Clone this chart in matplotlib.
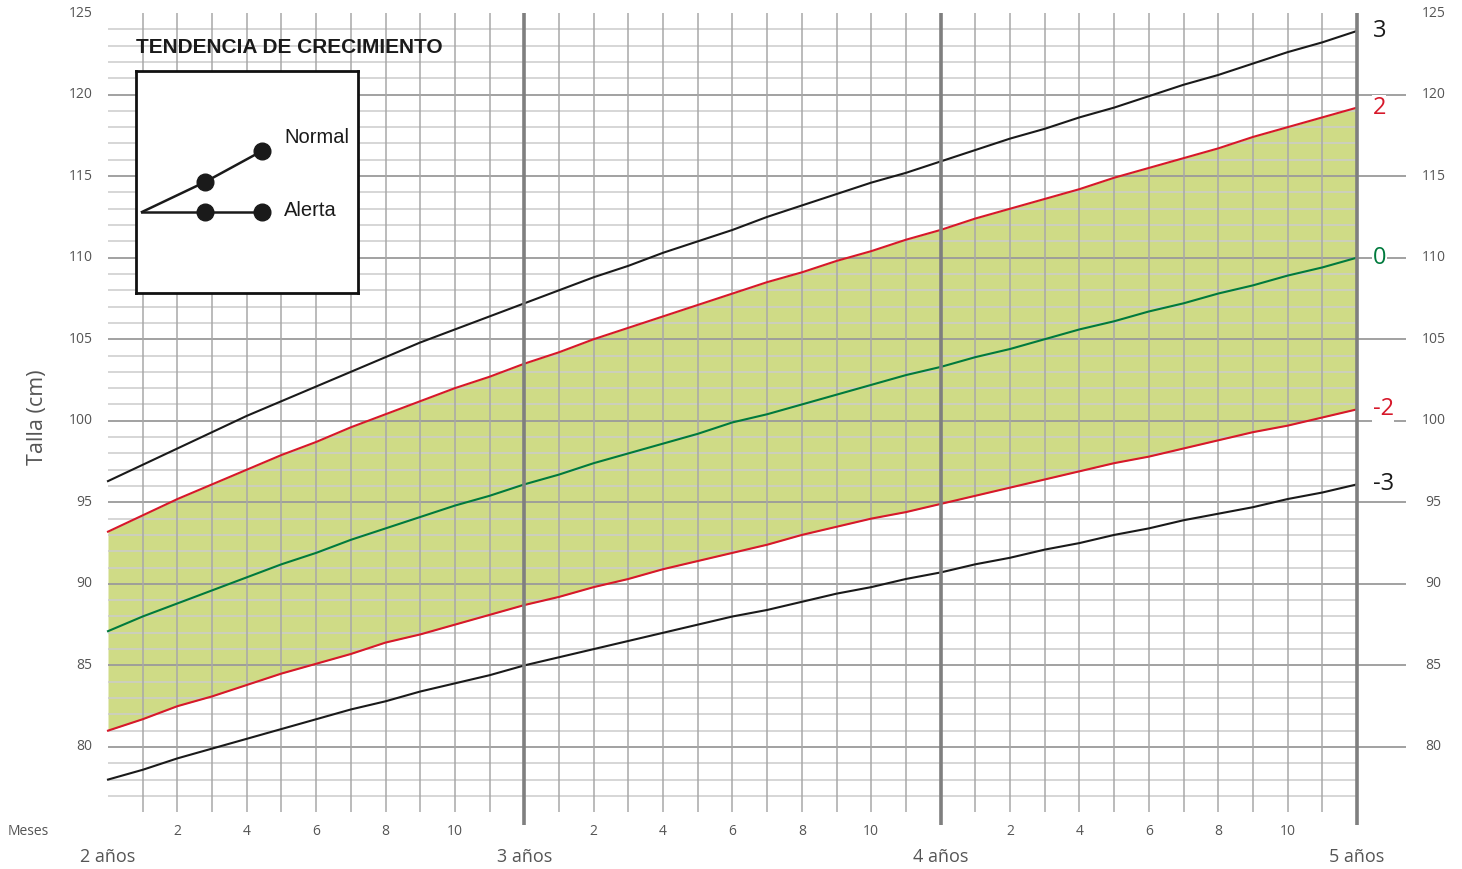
import matplotlib as mpl
from matplotlib import pyplot as plt
import numpy as np

mpl.rcParams['font.family'] = ['Open Sans', 'DejaVu Sans']

# Datos: talla para la edad (niños, 2 a 5 años), puntuación z
meses = np.arange(24, 61)
z_m3 = [78.0, 78.6, 79.3, 79.9, 80.5, 81.1, 81.7, 82.3, 82.8, 83.4, 83.9, 84.4, 85.0,
        85.5, 86.0, 86.5, 87.0, 87.5, 88.0, 88.4, 88.9, 89.4, 89.8, 90.3, 90.7,
        91.2, 91.6, 92.1, 92.5, 93.0, 93.4, 93.9, 94.3, 94.7, 95.2, 95.6, 96.1]
z_m2 = [81.0, 81.7, 82.5, 83.1, 83.8, 84.5, 85.1, 85.7, 86.4, 86.9, 87.5, 88.1, 88.7,
        89.2, 89.8, 90.3, 90.9, 91.4, 91.9, 92.4, 93.0, 93.5, 94.0, 94.4, 94.9,
        95.4, 95.9, 96.4, 96.9, 97.4, 97.8, 98.3, 98.8, 99.3, 99.7, 100.2, 100.7]
z_0 = [87.1, 88.0, 88.8, 89.6, 90.4, 91.2, 91.9, 92.7, 93.4, 94.1, 94.8, 95.4, 96.1,
       96.7, 97.4, 98.0, 98.6, 99.2, 99.9, 100.4, 101.0, 101.6, 102.2, 102.8, 103.3,
       103.9, 104.4, 105.0, 105.6, 106.1, 106.7, 107.2, 107.8, 108.3, 108.9, 109.4, 110.0]
z_p2 = [93.2, 94.2, 95.2, 96.1, 97.0, 97.9, 98.7, 99.6, 100.4, 101.2, 102.0, 102.7, 103.5,
        104.2, 105.0, 105.7, 106.4, 107.1, 107.8, 108.5, 109.1, 109.8, 110.4, 111.1, 111.7,
        112.4, 113.0, 113.6, 114.2, 114.9, 115.5, 116.1, 116.7, 117.4, 118.0, 118.6, 119.2]
z_p3 = [96.3, 97.3, 98.3, 99.3, 100.3, 101.2, 102.1, 103.0, 103.9, 104.8, 105.6, 106.4, 107.2,
        108.0, 108.8, 109.5, 110.3, 111.0, 111.7, 112.5, 113.2, 113.9, 114.6, 115.2, 115.9,
        116.6, 117.3, 117.9, 118.6, 119.2, 119.9, 120.6, 121.2, 121.9, 122.6, 123.2, 123.9]

curvas = [(z_p3, '3', '#1a1a1a'), (z_p2, '2', '#d7182a'), (z_0, '0', '#007a3d'),
          (z_m2, '-2', '#d7182a'), (z_m3, '-3', '#1a1a1a')]

anos = [24, 36, 48, 60]
ano_labels = ['2 años', '3 años', '4 años', '5 años']
tallas_lbl = np.arange(80, 126, 5)

# Figura
W, H = 1462, 869
fig = plt.figure(figsize=(W / 100, H / 100), dpi=100)
top_px, bot_px = 13, 812.2
ax = fig.add_axes([108 / W, 1 - bot_px / H, (1357 - 108) / W, (bot_px - top_px) / H])
ax.set_xlim(24, 60)
ax.set_ylim(76, 125)
ax.axis('off')

gris = '#555555'

# Relleno entre -2 y +2
ax.fill_between(meses, z_m2, z_p2, color='#cfdb86', lw=0, zorder=1)

# Cuadrícula
for v in range(77, 125):
    mayor = v % 5 == 0
    ax.plot([24, 61.4 if mayor else 60], [v, v], color='#9a9a9a' if mayor else '#cccccc',
            lw=1.3 if mayor else 1.1, zorder=2, clip_on=False, solid_capstyle='butt')
for m in range(25, 60):
    if m in anos:
        continue
    ax.plot([m, m], [76, 125], color='#a8a8a8', lw=1.1, zorder=2, solid_capstyle='butt')

# Curvas
for vals, lbl, col in curvas:
    ax.plot(meses, vals, color=col, lw=1.5, zorder=3, clip_on=False,
            solid_joinstyle='round')
    ax.text(60.45, vals[-1], lbl, color=col, fontsize=17, ha='left', va='center',
            zorder=5, clip_on=False,
            bbox=dict(facecolor='white', edgecolor='none', pad=0.3))

# Líneas de año
for a in anos[1:]:
    ax.plot([a, a], [75.2, 125], color='#7f7f7f', lw=2.6, zorder=4, clip_on=False,
            solid_capstyle='butt')

# Etiquetas del eje y
for v in tallas_lbl:
    ax.text(23.55, v, str(v), color=gris, fontsize=10, ha='right', va='center')
    ax.text(62.2, v, str(v), color=gris, fontsize=10, ha='center', va='center')

ax.text(21.98, 100.2, 'Talla (cm)', color=gris, fontsize=15.5, rotation=90,
        ha='center', va='center', clip_on=False)

# Etiquetas del eje x
ax.text(21.12, 74.8, 'Meses', color=gris, fontsize=10, ha='left', va='center',
        clip_on=False)
for a in anos[:-1]:
    for k in range(2, 12, 2):
        ax.text(a + k, 74.8, str(k), color=gris, fontsize=10, ha='center', va='center')
for a, lbl in zip(anos, ano_labels):
    ax.text(a, 73.25, lbl, color=gris, fontsize=13, ha='center', va='center')

# Recuadro de tendencia
lx = fig.add_axes([136 / W, 1 - 293 / H, 222 / W, 222 / H])
lx.set_xlim(0, 1)
lx.set_ylim(0, 1)
lx.set_xticks([])
lx.set_yticks([])
for s in lx.spines.values():
    s.set_linewidth(2)
    s.set_color('#111111')
lx.set_zorder(6)

origen = (0.027, 0.365)
normal_x, normal_y = [0.311, 0.568], [0.5, 0.64]
alerta_x, alerta_y = [0.311, 0.568], [0.365, 0.365]
lx.plot([origen[0]] + normal_x, [origen[1]] + normal_y, color='#1a1a1a', lw=1.8)
lx.plot([origen[0]] + alerta_x, [origen[1]] + alerta_y, color='#1a1a1a', lw=1.8)
lx.plot(normal_x + alerta_x, normal_y + alerta_y, 'o', color='#1a1a1a', ms=12)
lx.text(0.667, 0.70, 'Normal', fontsize=14.5, family=['Liberation Sans'],
        ha='left', va='center', color='#1a1a1a')
lx.text(0.667, 0.37, 'Alerta', fontsize=14.5, family=['Liberation Sans'],
        ha='left', va='center', color='#1a1a1a')
lx.text(0.0, 1.108, 'TENDENCIA DE CRECIMIENTO', fontsize=15, fontweight='bold',
        family=['Liberation Sans'], ha='left', va='center', color='#1a1a1a',
        transform=lx.transAxes, clip_on=False)

fig.savefig('out.png', dpi=100)
